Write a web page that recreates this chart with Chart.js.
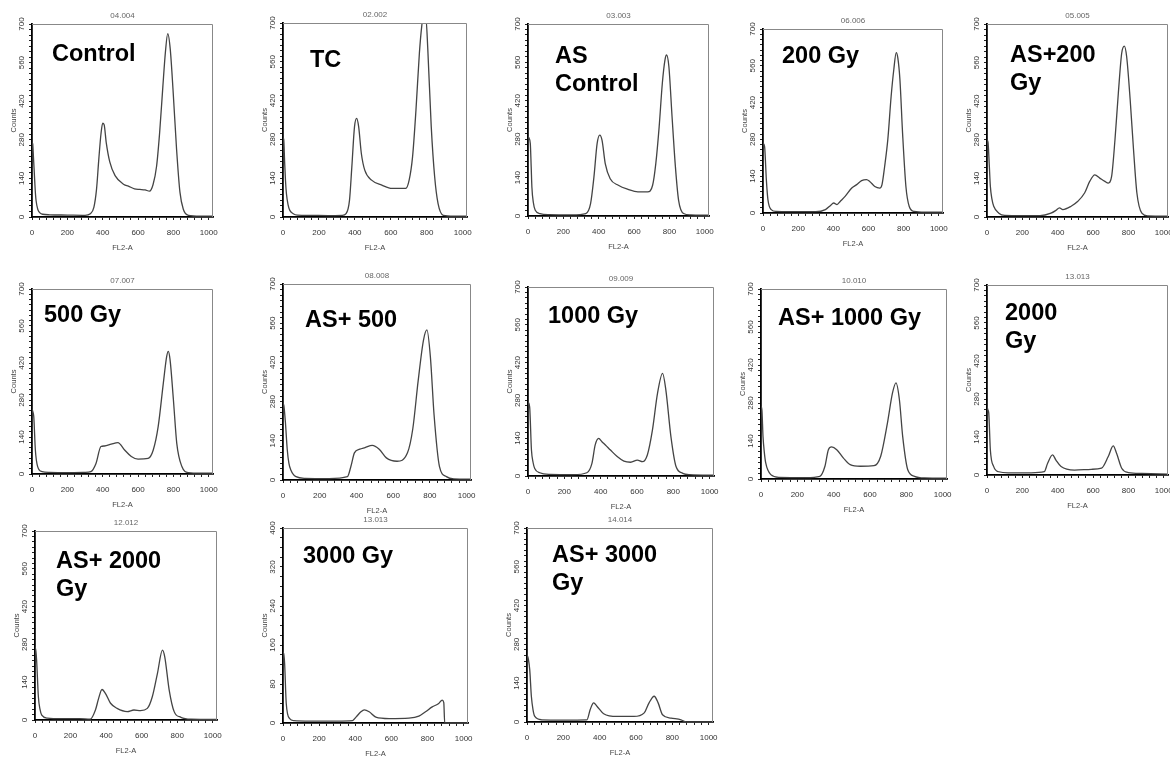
<!DOCTYPE html>
<html>
<head>
<meta charset="utf-8">
<script src="https://cdn.jsdelivr.net/npm/chart.js@4.4.0/dist/chart.umd.min.js"></script>
<style>
  body { margin: 0; background: #fff; }
  #page { position: relative; width: 1170px; height: 759px; overflow: hidden; }
  #page canvas { position: absolute; }
  .lbl { position: absolute; font: bold 23.5px "Liberation Sans", Arial, sans-serif; line-height: 28px; color: #000; white-space: nowrap; }
</style>
</head>
<body>
<div id="page"></div>
<script>
// histogram outlines: [FL2-A channel, counts]
const control = [[0,270],[4,265],[8,220],[13,160],[18,100],[23,60],[33,27],[45,15],[60,10],[100,8],[200,7],[300,6],[330,12],[350,35],[365,100],[378,210],[390,300],[400,340],[408,335],[420,270],[440,200],[470,150],[520,118],[545,112],[580,102],[610,100],[640,98],[665,94],[685,118],[705,185],[722,305],[740,470],[755,600],[768,665],[782,610],[798,460],[818,245],[837,90],[856,28],[885,6],[950,3],[1024,3]];
const tc = [[0,285],[4,280],[9,200],[14,130],[19,85],[28,45],[38,24],[57,12],[80,7],[150,6],[250,5],[330,6],[351,12],[370,60],[383,180],[398,326],[410,356],[421,326],[436,229],[455,169],[493,133],[550,115],[607,103],[683,103],[702,133],[721,217],[740,386],[759,591],[772,688],[780,720],[795,720],[806,603],[825,326],[844,145],[863,48],[892,6],[950,3],[1024,3]];
const asControl = [[0,290],[5,285],[13,264],[18,180],[22,106],[30,50],[41,21],[68,9],[120,5],[250,4],[327,9],[354,45],[373,142],[391,264],[406,295],[419,276],[437,191],[465,136],[511,112],[566,97],[622,88],[677,88],[705,112],[723,191],[742,325],[760,484],[775,569],[784,587],[797,545],[815,362],[834,179],[852,57],[880,9],[920,4],[1024,3]];
const gy200 = [[0,266],[9,253],[19,127],[28,51],[47,13],[75,6],[150,5],[300,5],[355,13],[383,28],[402,38],[421,32],[439,44],[467,63],[505,95],[533,108],[561,123],[589,127],[607,120],[636,101],[664,95],[677,108],[692,177],[710,279],[729,444],[744,545],[758,610],[767,590],[779,507],[794,304],[813,101],[832,25],[860,6],[920,3],[1024,3]];
const as200 = [[0,280],[6,270],[12,200],[19,111],[28,65],[38,39],[67,14],[100,6],[200,5],[300,5],[362,14],[390,24],[410,33],[429,27],[476,39],[514,57],[552,87],[581,129],[610,153],[638,141],[667,129],[686,123],[705,147],[724,280],[743,449],[762,594],[777,620],[790,582],[810,425],[829,244],[848,87],[876,14],[910,4],[1024,3]];
const gy500 = [[0,245],[5,235],[10,217],[19,91],[32,28],[57,9],[100,6],[200,5],[300,6],[333,9],[362,40],[390,104],[410,106],[448,113],[486,119],[524,91],[562,66],[600,56],[657,59],[686,91],[714,180],[743,344],[762,445],[771,464],[781,433],[800,281],[819,116],[848,28],[886,5],[950,3],[1024,3]];
const as500 = [[0,274],[5,265],[13,207],[23,110],[32,60],[42,37],[71,12],[120,6],[250,5],[351,12],[370,49],[389,97],[418,110],[447,116],[486,124],[524,110],[563,79],[621,67],[678,97],[707,183],[736,353],[765,499],[784,536],[803,438],[823,231],[852,49],[890,12],[930,4],[1024,3]];
const gy1000 = [[0,275],[9,256],[19,96],[28,50],[37,28],[65,12],[120,6],[250,5],[324,12],[352,47],[370,115],[389,139],[407,127],[426,115],[454,96],[491,72],[528,55],[565,51],[602,59],[630,53],[657,78],[685,170],[713,306],[741,380],[759,318],[787,145],[815,35],[852,10],[890,5],[1024,3]];
const as1000 = [[0,268],[5,255],[11,157],[18,100],[26,59],[54,16],[100,6],[250,5],[324,10],[352,47],[371,108],[389,118],[417,108],[454,77],[491,53],[547,47],[622,49],[659,84],[696,206],[724,317],[743,354],[762,292],[780,157],[808,34],[845,10],[900,4],[1024,3]];
const gy2000 = [[0,252],[5,240],[10,227],[19,92],[38,31],[67,12],[120,8],[250,8],[324,12],[343,43],[371,74],[390,55],[419,31],[495,18],[590,21],[648,25],[686,68],[714,107],[733,80],[762,25],[800,9],[876,6],[1024,3]];
const as2000 = [[0,271],[5,255],[9,222],[19,86],[28,40],[38,18],[70,7],[150,5],[250,5],[311,3],[340,37],[358,80],[377,113],[396,99],[425,62],[462,43],[519,31],[557,37],[594,35],[632,43],[660,86],[689,173],[717,259],[730,234],[755,111],[783,31],[821,10],[877,3],[1024,2]];
const gy3000 = [[0,146],[5,140],[9,122],[18,40],[37,9],[60,5],[150,4],[300,4],[385,5],[404,12],[431,23],[450,27],[477,23],[514,12],[587,9],[697,10],[752,14],[789,23],[826,33],[862,40],[881,47],[890,42],[895,0],[1024,0]];
const as3000 = [[0,243],[8,225],[15,189],[24,93],[33,45],[43,20],[80,8],[200,7],[330,8],[348,45],[367,69],[385,57],[422,30],[496,20],[589,20],[644,32],[672,69],[700,93],[722,69],[746,26],[793,14],[848,8],[876,0],[1024,0]];

const codes = ['04.004','02.002','03.003','06.006','05.005','07.007','08.008','09.009','10.010','13.013','12.012','13.013','14.014'];
const labels = ['Control','TC','AS<br>Control','200 Gy','AS+200<br>Gy','500 Gy','AS+ 500','1000 Gy','AS+ 1000 Gy','2000<br>Gy','AS+ 2000<br>Gy','3000 Gy','AS+ 3000<br>Gy'];
const series = [control, tc, asControl, gy200, as200, gy500, as500, gy1000, as1000, gy2000, as2000, gy3000, as3000];
const yMax = [700,700,700,700,700,700,700,700,700,700,700,400,700];

// plot box [left, top, right, bottom] and label spot for each panel
const boxes = [[32,24,213,217],[283,23,467,217],[528,24,709,216],[763,29,943,213],[987,24,1168,217],
  [32,289,213,474],[283,284,471,480],[528,287,714,476],[761,289,947,479],[987,285,1168,475],
  [35,531,217,720],[283,528,468,723],[527,528,713,722]];
const spots = [[52,39],[310,45],[555,41],[782,41],[1010,40],[44,300],[305,305],[548,301],[778,303],[1005,298],[56,546],[303,541],[552,540]];

const page = document.getElementById('page');
const face = '"Liberation Sans",Arial,sans-serif';

const frame = {
  id: 'frame',
  afterDraw(c) {
    const a = c.chartArea, ctx = c.ctx;
    ctx.save();
    ctx.strokeStyle = '#888';
    ctx.lineWidth = 1;
    ctx.beginPath();
    ctx.moveTo(a.left, a.top + 0.5);
    ctx.lineTo(a.right - 0.5, a.top + 0.5);
    ctx.lineTo(a.right - 0.5, a.bottom);
    ctx.stroke();
    ctx.restore();
  }
};

series.forEach((pts, i) => {
  const [l, t, r, b] = boxes[i];
  const cv = document.createElement('canvas');
  cv.width = r - l + 40;
  cv.height = b - t + 58;
  cv.style.left = (l - 34) + 'px';
  cv.style.top = (t - 22) + 'px';
  page.appendChild(cv);

  const top = yMax[i], major = top / 5;
  new Chart(cv, {
    type: 'line',
    data: {
      datasets: [{
        data: pts.map(([x, y]) => ({x, y})),
        borderColor: '#444',
        borderWidth: 1.3,
        pointRadius: 0,
        cubicInterpolationMode: 'monotone',
        fill: false
      }]
    },
    options: {
      responsive: false,
      animation: false,
      devicePixelRatio: 1,
      layout: {padding: {left: 0, right: 6, top: 0, bottom: 0}},
      plugins: {
        legend: {display: false},
        tooltip: {enabled: false},
        title: {
          display: true, text: codes[i], fullSize: false, color: '#666',
          font: {family: face, size: 8, weight: 'normal', lineHeight: '12px'},
          padding: {top: 8, bottom: 2}
        }
      },
      scales: {
        x: {
          type: 'linear', min: 0, max: 1024,
          afterFit(s) { s.height = 36; s.paddingLeft = 0; s.paddingRight = 0; },
          ticks: {stepSize: 40, autoSkip: false, maxRotation: 0, includeBounds: false, maxTicksLimit: 1000,
            padding: 8, color: '#333', font: {family: face, size: 8},
            callback: v => v % 200 === 0 ? String(v) : ''},
          grid: {drawOnChartArea: false, tickLength: 3, color: '#222'},
          border: {color: '#000', width: 1.8},
          title: {display: true, text: 'FL2-A', color: '#444', font: {family: face, size: 7.5}, padding: {top: 0, bottom: 1}}
        },
        y: {
          min: 0, max: top,
          afterFit(s) { s.width = 34; s.paddingTop = 0; s.paddingBottom = 0; },
          ticks: {stepSize: 20, autoSkip: false, minRotation: 90, maxRotation: 90, crossAlign: 'center', maxTicksLimit: 1000,
            padding: 1, color: '#333', font: {family: face, size: 8},
            callback: v => v % major === 0 ? String(v) : ''},
          grid: {drawOnChartArea: false, tickLength: 3, color: '#222'},
          border: {color: '#000', width: 1.8},
          title: {display: true, text: 'Counts', color: '#444', font: {family: face, size: 7.5}, padding: {top: 11, bottom: 0}}
        }
      }
    },
    plugins: [frame]
  });

  const d = document.createElement('div');
  d.className = 'lbl';
  d.innerHTML = labels[i];
  d.style.left = spots[i][0] + 'px';
  d.style.top = spots[i][1] + 'px';
  page.appendChild(d);
});
</script>
</body>
</html>
